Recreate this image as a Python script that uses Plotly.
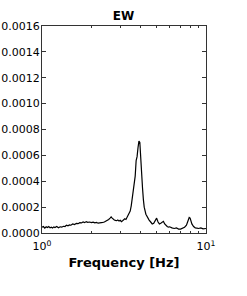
import plotly.graph_objects as go

freq = [1.00, 1.02, 1.04, 1.06, 1.08, 1.10, 1.12, 1.14, 1.16, 1.18, 1.20, 1.23, 1.26, 1.29, 1.32,
        1.35, 1.38, 1.41, 1.44, 1.47, 1.50, 1.54, 1.58, 1.62, 1.66, 1.70, 1.74, 1.78, 1.82, 1.86,
        1.90, 1.95, 2.00, 2.05, 2.10, 2.15, 2.20, 2.25, 2.30, 2.35, 2.40, 2.45, 2.50, 2.55, 2.60,
        2.64, 2.68, 2.72, 2.76, 2.80, 2.85, 2.90, 2.95, 3.00, 3.05, 3.10, 3.15, 3.20, 3.25, 3.30,
        3.35, 3.40, 3.45, 3.50, 3.55, 3.60, 3.65, 3.70, 3.75, 3.80, 3.85, 3.90, 3.95, 4.00, 4.05,
        4.10, 4.15, 4.20, 4.30, 4.40, 4.50, 4.60, 4.70, 4.80, 4.90, 5.00, 5.10, 5.20, 5.30, 5.40,
        5.50, 5.60, 5.70, 5.80, 5.90, 6.00, 6.20, 6.40, 6.60, 6.80, 7.00, 7.20, 7.40, 7.60, 7.80,
        7.90, 8.00, 8.10, 8.20, 8.40, 8.60, 8.80, 9.00, 9.30, 9.60, 10.0]

amp_e4 = [0.45, 0.50, 0.38, 0.48, 0.42, 0.50, 0.40, 0.45, 0.38, 0.47, 0.42, 0.50, 0.40, 0.48, 0.45,
          0.52, 0.50, 0.60, 0.55, 0.62, 0.60, 0.70, 0.65, 0.75, 0.72, 0.80, 0.78, 0.85, 0.80, 0.88,
          0.82, 0.85, 0.80, 0.84, 0.78, 0.82, 0.76, 0.80, 0.78, 0.82, 0.85, 0.90, 0.95, 1.05, 1.15,
          1.25, 1.15, 1.05, 1.00, 0.98, 0.95, 1.00, 0.92, 0.98, 0.88, 0.95, 1.00, 1.10, 1.05, 1.20,
          1.30, 1.45, 1.70, 2.10, 2.60, 3.30, 3.70, 4.40, 5.60, 5.90, 6.60, 7.10, 7.00, 5.50, 4.80,
          3.50, 2.60, 2.00, 1.45, 1.20, 1.00, 0.85, 0.70, 0.75, 0.95, 1.15, 0.85, 0.70, 0.75, 0.85,
          0.90, 0.70, 0.55, 0.50, 0.45, 0.48, 0.40, 0.35, 0.40, 0.30, 0.30, 0.35, 0.45, 0.60, 0.95,
          1.20, 1.15, 0.90, 0.70, 0.50, 0.40, 0.38, 0.35, 0.40, 0.32, 0.35]

amp = [v * 1e-4 for v in amp_e4]

y_ticks = [0.0, 0.0002, 0.0004, 0.0006, 0.0008, 0.0010, 0.0012, 0.0014, 0.0016]
x_ticks = [1, 10]
x_ticktext = ["10<sup>0</sup>", "10<sup>1</sup>"]

fig = go.Figure()
fig.add_trace(go.Scatter(x=freq, y=amp, mode="lines",
                         line=dict(color="black", width=1.2), showlegend=False))

axis_common = dict(showline=True, linecolor="#333333", linewidth=1, mirror="ticks",
                   ticks="inside", tickcolor="#333333", showgrid=False, zeroline=False,
                   automargin=False,
                   tickfont=dict(family="DejaVu Sans", size=11, color="black"))

fig.update_layout(
    width=247, height=296,
    margin=dict(l=42, r=41, t=26, b=63),
    paper_bgcolor="white", plot_bgcolor="white",
    title=dict(text="<b>EW</b>", x=0.5, xanchor="center", y=1 - 16 / 296, yanchor="middle",
               font=dict(family="DejaVu Sans", size=12, color="black")),
    xaxis=dict(type="log", range=[0, 1], tickvals=x_ticks, ticktext=x_ticktext, ticklen=4,
               ticklabelstandoff=3,
               minor=dict(ticks="inside", ticklen=2, tickcolor="#333333", dtick="D1"),
               title=dict(text="<b>Frequency [Hz]</b>", standoff=5,
                          font=dict(family="DejaVu Sans", size=13, color="black")),
               **axis_common),
    yaxis=dict(range=[0, 0.0016], tickvals=y_ticks, tickformat=".4f", ticklen=4,
               ticklabelstandoff=-1, **axis_common),
)

fig.write_html("out.html")
